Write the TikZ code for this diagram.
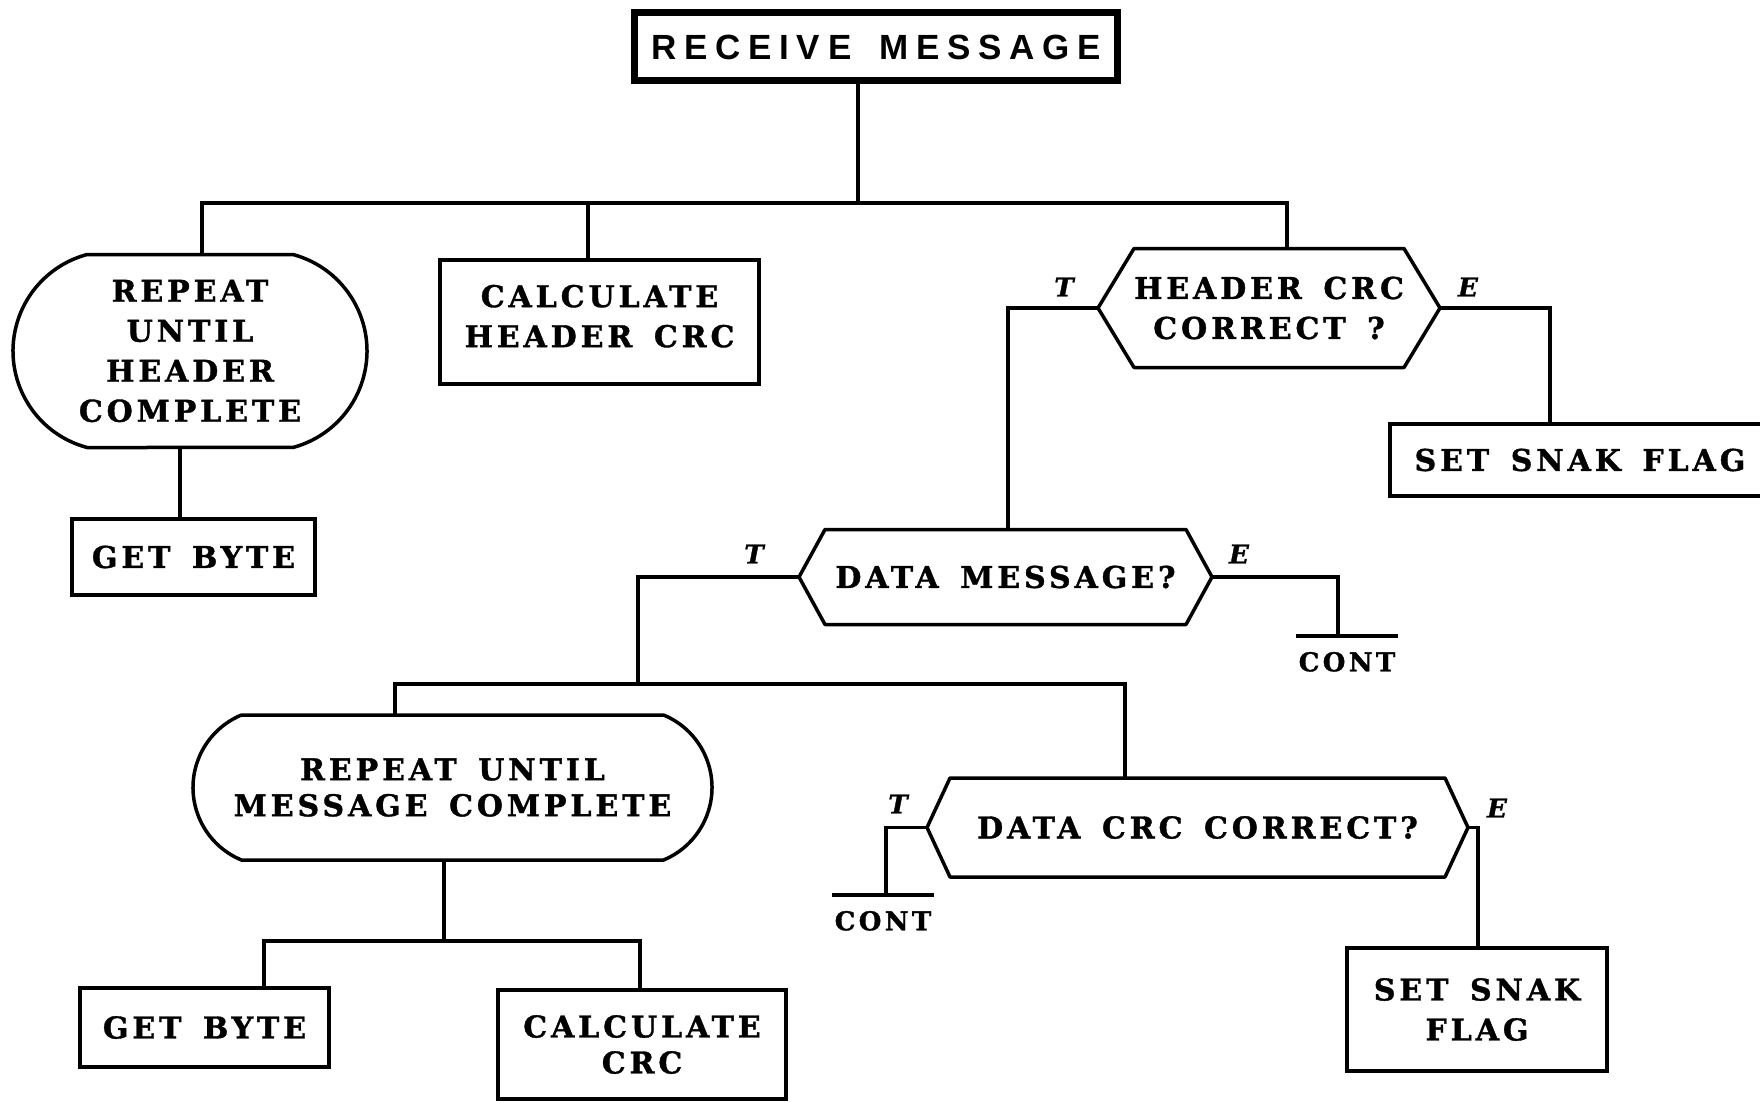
\documentclass[tikz,border=0pt]{standalone}
\usepackage{fontspec}
\usetikzlibrary{shapes.misc,calc}

% Typefaces: a heavy slab serif for the chart, a wide sans for the title
\newfontfamily\slabface{DejaVu Serif}[LetterSpace=13,WordSpace=1.5,
  BoldFeatures={FakeBold=1.2}]
\newfontfamily\headface{Liberation Sans}[LetterSpace=22,WordSpace=1.6]
\newfontfamily\tagface{DejaVu Serif}[BoldItalicFeatures={FakeBold=1.2}]
\newcommand\slabtext{\slabface\bfseries\fontsize{30}{40}\selectfont}

\tikzset{
  line/.style={line width=3.5pt},
  box/.style={draw, rectangle, line width=3.5pt, inner sep=0pt, outer sep=0pt,
              align=center, font=\slabtext},
  oval/.style={draw, rounded rectangle, line width=3.5pt, inner sep=0pt,
               outer sep=0pt, align=center, font=\slabtext},
  hexnode/.style={rectangle, inner sep=0pt, outer sep=0pt, align=center,
                  font=\slabtext},
  hexline/.style={line width=3.5pt, line join=round},
  headbox/.style={draw, rectangle, line width=7pt, inner sep=0pt,
                  outer sep=0pt, font=\headface\bfseries\fontsize{35}{40}\selectfont},
  tag/.style={inner sep=0pt, font=\tagface\bfseries\itshape\fontsize{26}{26}\selectfont},
  contnode/.style={inner xsep=3pt, inner ysep=16pt, outer sep=0pt, anchor=north,
                   font=\slabface\bfseries\fontsize{26}{26}\selectfont},
}

\begin{document}
\begin{tikzpicture}[x=1pt,y=-1pt]
\clip (0,0) rectangle (1760,1102);
\fill[white] (0,0) rectangle (1760,1102);

% ---- nodes ----
\node[headbox, minimum width=483pt, minimum height=68pt] (rm) at (876,47) {RECEIVE MESSAGE};

\node[oval, minimum width=354pt, minimum height=193pt,
      rounded rectangle arc length=150] (rh) at (190,351)
      {REPEAT\\UNTIL\\HEADER\\COMPLETE};
\node[box, minimum width=243pt, minimum height=76pt] (gb1) at (193.5,557) {GET BYTE};
% the empty last row lifts the two lines a little above the middle
\node[box, minimum width=319pt, minimum height=124pt] (chc) at (599.5,322)
      {CALCULATE\\HEADER CRC\\[-28pt]\mbox{}};

\node[hexnode, minimum width=342pt, minimum height=119pt] (hcc) at (1269,308)
      {HEADER CRC\\CORRECT ?};
\node[box, minimum width=380pt, minimum height=72pt] (ssf1) at (1580,460) {SET SNAK FLAG};

\node[hexnode, minimum width=413pt, minimum height=95pt] (dm) at (1005.5,577)
      {DATA MESSAGE?};
\node[contnode] (cont1) at (1347,636) {CONT};

\node[oval, minimum width=519pt, minimum height=145pt,
      rounded rectangle arc length=135] (rm2) at (452.5,787.5)
      {REPEAT UNTIL\\[-4pt]MESSAGE COMPLETE};
\node[box, minimum width=249pt, minimum height=79pt] (gb2) at (204.5,1027.5) {GET BYTE};
\node[box, minimum width=288pt, minimum height=109pt] (cc) at (642,1044.5)
      {CALCULATE\\[-4pt]CRC};

\node[hexnode, minimum width=541pt, minimum height=99pt] (dcc) at (1197.5,827.5)
      {DATA CRC CORRECT?};
\node[contnode] (cont2) at (883,895) {CONT};
\node[box, minimum width=260pt, minimum height=123pt] (ssf2) at (1477,1009.5)
      {SET SNAK\\FLAG};

% ---- decision outlines ----
\draw[hexline] (hcc.west) -- ([xshift=36pt]hcc.north west) -- ([xshift=-36pt]hcc.north east)
  -- (hcc.east) -- ([xshift=-36pt]hcc.south east) -- ([xshift=36pt]hcc.south west) -- cycle;
\draw[hexline] (dm.west) -- ([xshift=26pt]dm.north west) -- ([xshift=-26pt]dm.north east)
  -- (dm.east) -- ([xshift=-26pt]dm.south east) -- ([xshift=26pt]dm.south west) -- cycle;
\draw[hexline] (dcc.west) -- ([xshift=23pt]dcc.north west) -- ([xshift=-23pt]dcc.north east)
  -- (dcc.east) -- ([xshift=-23pt]dcc.south east) -- ([xshift=23pt]dcc.south west) -- cycle;

% ---- branch labels ----
\node[tag] (t1) at (1064,287) {T};
\node[tag] (f1) at (1468,287) {E};
\node[tag] (t2) at (754,554) {T};
\node[tag] (f2) at (1239,554) {E};
\node[tag] (t3) at (898,804) {T};
\node[tag] (f3) at (1497,808) {E};

% ---- connectors ----
\coordinate (j0) at (858,203);
\coordinate (b1l) at (202,203);
\coordinate (b1m) at (588,203);
\coordinate (b1r) at (1287,203);
\draw[line] (rm.south -| j0) -- (j0);
\draw[line] (rh.north -| b1l) |- (b1r) -- (hcc.north -| b1r);
\draw[line] (b1m) -- (chc.north -| b1m);
\draw[line] ([xshift=-10pt]rh.south) -- ([xshift=-10pt]rh.south |- gb1.north);

\draw[line] (hcc.west) -| ([xshift=2.5pt]dm.north);
\draw[line] (hcc.east) -| ([xshift=-30pt]ssf1.north);

\coordinate (b2l) at (395,684);
\coordinate (b2m) at (638,684);
\coordinate (b2r) at (1125,684);
\draw[line] (dm.west) -| (b2m);
\draw[line] (rm2.north -| b2l) |- (b2r) -- (dcc.north -| b2r);
\draw[line] (dm.east) -| ([xshift=-9pt]cont1.north);
\draw[line] (cont1.north west) -- (cont1.north east);

\draw[line] (dcc.west) -| ([xshift=3pt]cont2.north);
\draw[line] (cont2.north west) -- (cont2.north east);
\draw[line] (dcc.east) -| ([xshift=1pt]ssf2.north);

\coordinate (b3l) at (264,941);
\coordinate (b3m) at (444,941);
\coordinate (b3r) at (640,941);
\draw[line] (rm2.south -| b3m) -- (b3m);
\draw[line] (gb2.north -| b3l) |- (b3r) -- (cc.north -| b3r);
\end{tikzpicture}
\end{document}
